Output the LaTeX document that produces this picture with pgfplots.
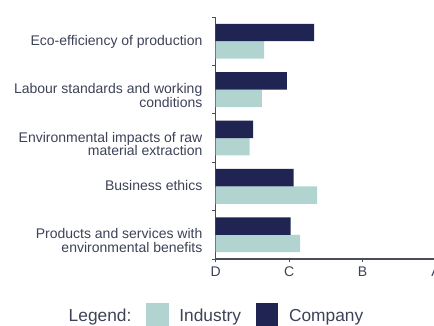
\documentclass[border=0pt]{standalone}
\usepackage{pgfplots}
\pgfplotsset{compat=1.18}
\usepackage{fontspec}
\setmainfont{Liberation Sans}
\definecolor{navyc}{HTML}{1F2452}
\definecolor{tealc}{HTML}{B2D4D1}
\definecolor{txtc}{HTML}{3C4257}
\definecolor{axc}{HTML}{4A4D57}
\begin{document}
\begin{tikzpicture}
\path[use as bounding box] (0pt,0pt) rectangle (325.5pt,243.75pt);
\begin{axis}[
  at={(161.8pt,49.5pt)}, anchor=south west,
  scale only axis, width=165.2pt, height=181.5pt,
  xmin=0, xmax=3, ymin=-0.5, ymax=4.5,
  xbar, bar width=0.36,
  axis x line*=bottom, axis y line*=left,
  x axis line style={axc, line width=1pt, -},
  y axis line style={axc, line width=0.6pt, -},
  xtick={0,1,2,3}, xticklabels={D,C,B,A},
  ytick={0,1,2,3,4},
  yticklabels={{Products and services with\\environmental benefits},{Business ethics},{Environmental impacts of raw\\material extraction},{Labour standards and working\\conditions},{Eco-efficiency of production}},
  minor ytick={-0.5,0.5,1.5,2.5,3.5,4.5},
  tick align=outside,
  major tick length=2.5pt,
  minor tick length=2.5pt,
  major y tick style={draw=none},
  every tick/.style={axc, line width=0.6pt},
  yticklabel style={align=right, font=\fontsize{10.5}{10.2}\selectfont, text=txtc, anchor=north east, yshift=8pt, xshift=-4pt},
  xticklabel style={font=\fontsize{10.5}{12}\selectfont, text=txtc},
  legend columns=3,
  legend style={draw=none, fill=none, at={(-0.017,-0.17)}, anchor=north, font=\fontsize{13}{14}\selectfont, text=txtc,
    /tikz/every odd column/.append style={column sep=6pt},
    /tikz/every even column/.append style={column sep=9pt}},
  legend cell align=left,
]
\addlegendimage{empty legend}
\addplot[fill=tealc, draw=none, bar shift=-0.18,
  legend image code/.code={\fill[tealc] (0pt,-7pt) rectangle (17pt,10pt);}]
  coordinates {(1.15,0) (1.38,1) (0.46,2) (0.63,3) (0.66,4)};
\addplot[fill=navyc, draw=none, bar shift=0.18,
  legend image code/.code={\fill[navyc] (0pt,-7pt) rectangle (17pt,10pt);}]
  coordinates {(1.02,0) (1.06,1) (0.51,2) (0.97,3) (1.34,4)};
\legend{Legend:\hspace{5pt},Industry,Company}
\end{axis}
\end{tikzpicture}
\end{document}
